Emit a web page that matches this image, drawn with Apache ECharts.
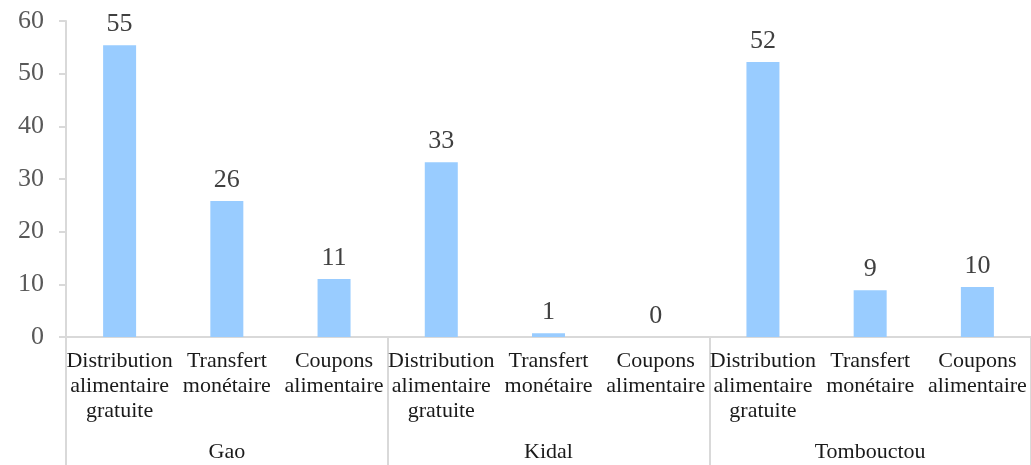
<!DOCTYPE html>
<html>
<head>
<meta charset="utf-8">
<script src="https://cdn.jsdelivr.net/npm/echarts@6/dist/echarts.min.js"></script>
<style>
  html, body { margin: 0; padding: 0; background: #ffffff; }
  #chart { width: 1031px; height: 465px; }
</style>
</head>
<body>
<div id="chart"></div>
<script>
// Bar heights; the printed labels are the rounded figures shown above each bar.
const categories = [
  'Distribution\nalimentaire\ngratuite', 'Transfert\nmonétaire', 'Coupons\nalimentaire',
  'Distribution\nalimentaire\ngratuite', 'Transfert\nmonétaire', 'Coupons\nalimentaire',
  'Distribution\nalimentaire\ngratuite', 'Transfert\nmonétaire', 'Coupons\nalimentaire',
];
const regions = ['Gao', 'Kidal', 'Tombouctou'];
const values = [55.4, 25.8, 11.0, 33.2, 0.7, 0, 52.2, 8.9, 9.5];
const valueLabels = ['55', '26', '11', '33', '1', '0', '52', '9', '10'];
const yTicks = [0, 10, 20, 30, 40, 50, 60];

const SERIF = 'Liberation Serif';
const LINE = '#d9d9d9';

const chart = echarts.init(document.getElementById('chart'), null, { renderer: 'canvas' });
chart.setOption({
  backgroundColor: '#ffffff',
  animation: false,
  // right edge pushed just past the canvas: the reference shows no closing separator line
  grid: { left: 66, right: -3, top: 21, bottom: 128, containLabel: false },
  xAxis: [
    {
      type: 'category',
      data: categories,
      position: 'bottom',
      axisLine: { show: true, lineStyle: { color: LINE, width: 2 } },
      axisTick: { show: false },
      axisLabel: {
        interval: 0, margin: 12, fontFamily: SERIF, fontSize: 22, lineHeight: 25,
        color: '#1a1a1a', align: 'center',
      },
    },
    {
      type: 'category',
      data: regions,
      position: 'bottom',
      boundaryGap: true,
      axisLine: { show: false },
      axisTick: { show: true, length: 130, lineStyle: { color: LINE, width: 2 } },
      axisLabel: { interval: 0, margin: 104, fontFamily: SERIF, fontSize: 22, color: '#1a1a1a' },
    },
  ],
  yAxis: {
    type: 'value',
    min: yTicks[0],
    max: yTicks[yTicks.length - 1],
    interval: 10,
    axisLine: { show: true, lineStyle: { color: LINE, width: 2 } },
    axisTick: { show: true, length: 7, lineStyle: { color: LINE, width: 2 } },
    splitLine: { show: false },
    axisLabel: { margin: 22, fontFamily: SERIF, fontSize: 26, color: '#595959' },
  },
  series: [{
    type: 'bar',
    xAxisIndex: 0,
    data: values,
    barWidth: 33,
    itemStyle: { color: '#99ccff' },
    label: {
      show: true, position: 'top', distance: 8,
      fontFamily: SERIF, fontSize: 26, color: '#404040',
      formatter: (p) => valueLabels[p.dataIndex],
    },
  }],
});
</script>
</body>
</html>
